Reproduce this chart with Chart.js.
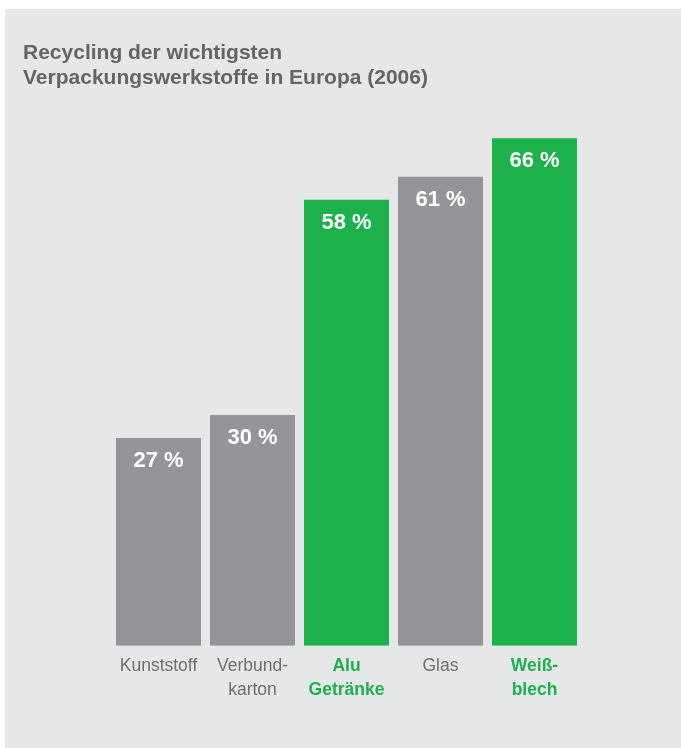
<!DOCTYPE html>
<html>
<head>
<meta charset="utf-8">
<script src="https://cdn.jsdelivr.net/npm/chart.js@4/dist/chart.umd.min.js"></script>
<style>
  html, body { margin: 0; padding: 0; background: #ffffff; }
  #wrap { width: 681px; height: 748px; }
</style>
</head>
<body>
<div id="wrap"><canvas id="chart" width="681" height="748"></canvas></div>
<script>
// Recycling rates of the main packaging materials in Europe, 2006 (percent)
const categories = [['Kunststoff'], ['Verbund-', 'karton'], ['Alu', 'Getränke'], ['Glas'], ['Weiß-', 'blech']];
const rates = [27, 30, 58, 61, 66];
const highlighted = [false, false, true, false, true];
const titleLines = ['Recycling der wichtigsten', 'Verpackungswerkstoffe in Europa (2006)'];

const GREEN = '#1db14b';
const GREY_BAR = '#939598';
const GREY_TEXT = '#6d6e71';
const TITLE_TEXT = '#636466';
const PANEL = '#e6e7e8';
const FONT = "'Liberation Sans', Arial, sans-serif";

// light grey panel behind the whole graphic
const panelPlugin = {
  id: 'panel',
  beforeDraw(chart) {
    const ctx = chart.ctx;
    ctx.save();
    ctx.fillStyle = PANEL;
    ctx.fillRect(5, 9, chart.width - 5, chart.height - 9);
    ctx.restore();
  }
};

// white percentage labels inside the top of each bar
const valueLabels = {
  id: 'valueLabels',
  afterDatasetsDraw(chart) {
    const ctx = chart.ctx;
    const meta = chart.getDatasetMeta(0);
    const data = chart.data.datasets[0].data;
    ctx.save();
    ctx.fillStyle = '#ffffff';
    ctx.font = 'bold 22px ' + FONT;
    ctx.textAlign = 'center';
    ctx.textBaseline = 'middle';
    meta.data.forEach((bar, i) => {
      ctx.fillText(data[i] + ' %', bar.x, bar.y + 23);
    });
    ctx.restore();
  }
};

new Chart(document.getElementById('chart'), {
  type: 'bar',
  data: {
    labels: categories,
    datasets: [{
      data: rates,
      backgroundColor: highlighted.map(h => h ? GREEN : GREY_BAR),
      borderWidth: 0,
      barPercentage: 1,
      categoryPercentage: 85 / 94
    }]
  },
  options: {
    responsive: false,
    animation: false,
    devicePixelRatio: 1,
    layout: { padding: { left: 23, right: 99.5, top: 0, bottom: 0 } },
    plugins: {
      legend: { display: false },
      tooltip: { enabled: false },
      title: {
        display: true,
        text: titleLines,
        align: 'start',
        color: TITLE_TEXT,
        font: { family: FONT, size: 21, weight: 'bold', lineHeight: 1.22 },
        padding: { top: 40, bottom: 16.2 }
      }
    },
    scales: {
      x: {
        grid: { display: false },
        border: { display: false },
        ticks: {
          padding: 0,
          maxRotation: 0,
          autoSkip: false,
          color: ctx => highlighted[ctx.index] ? GREEN : GREY_TEXT,
          font: ctx => ({
            family: FONT,
            size: 17.5,
            weight: highlighted[ctx.index] ? 'bold' : 'normal',
            lineHeight: '24px'
          })
        },
        afterFit(scale) { scale.height = 102.3; }
      },
      y: {
        min: 0,
        max: 70,
        grid: { display: false },
        border: { display: false },
        ticks: { display: false },
        afterFit(scale) { scale.width = 88.5; }
      }
    }
  },
  plugins: [panelPlugin, valueLabels]
});
</script>
</body>
</html>
